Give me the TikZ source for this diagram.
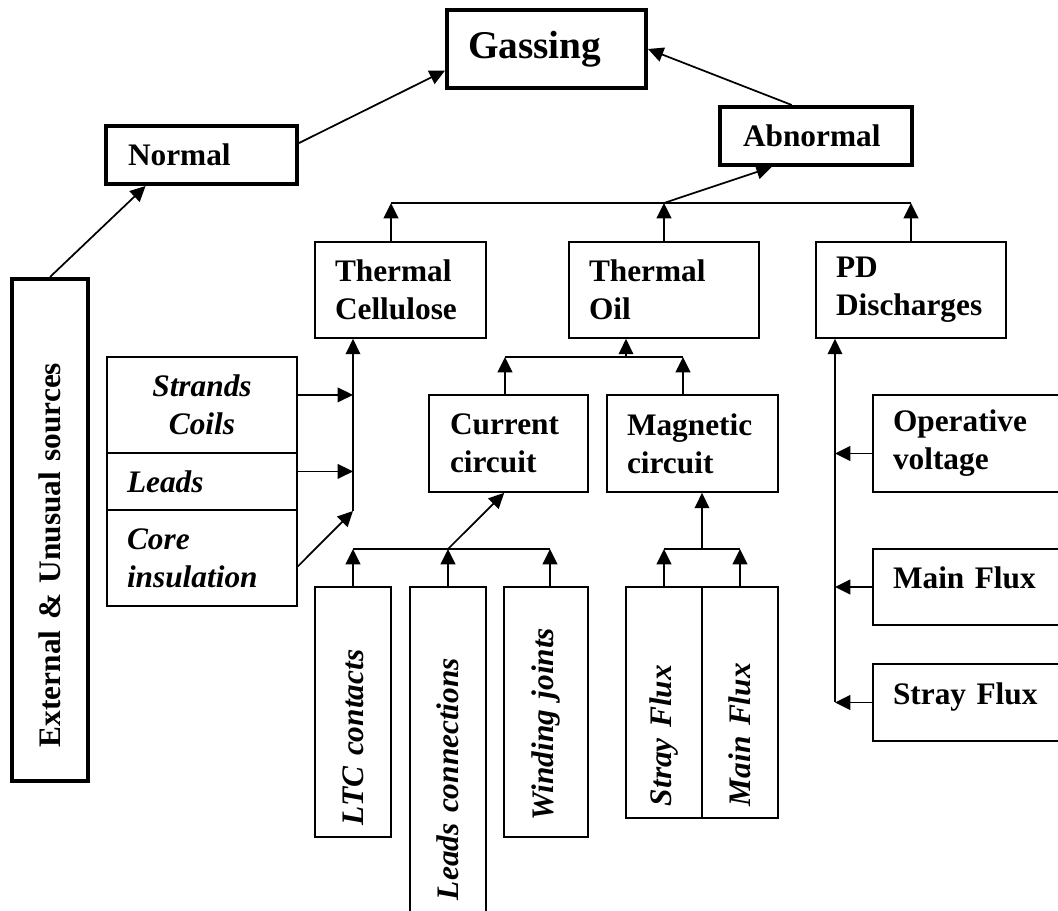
\documentclass[tikz,border=0pt]{standalone}
\usepackage{fontspec}
\setmainfont{Liberation Serif}
\usetikzlibrary{arrows.meta}

\newcommand{\diagfont}{\fontsize{23.5}{28.5}\selectfont\bfseries}

\begin{document}
\begin{tikzpicture}[x=0.75pt, y=-0.75pt,
    sbox/.style={draw, line width=1.3pt, font=\diagfont, align=left, inner sep=0pt},
    mbox/.style={sbox, line width=3pt},
    itbox/.style={sbox, font=\diagfont\itshape},
    arr/.style={line width=1.3pt, -{Triangle[length=11.5pt, width=11pt]}},
    wire/.style={line width=1.3pt}]
  \useasboundingbox (0,0) rectangle (1058,911);
  \clip (0,0) rectangle (1058,911);

  \node [mbox, font=\fontsize{29.5}{35}\selectfont\bfseries, minimum width=149.25pt, minimum height=58.5pt, text width=117.75pt] (gas) at (546.5,49) {Gassing};
  \node [mbox, minimum width=143.25pt, minimum height=43.5pt, text width=110.25pt] (normal) at (201.5,155) {Normal};
  \node [mbox, minimum width=144pt, minimum height=43.5pt, text width=109.5pt] (abn) at (816,136) {Abnormal};
  \node [mbox, rotate=90, minimum width=376.5pt, minimum height=57pt, text width=325.5pt] (ext) at (50,530) {External \& Unusual sources};

  \node [sbox, minimum width=128.25pt, minimum height=72pt, text width=98.25pt] (tcell) at (400.5,290) {Thermal\\Cellulose};
  \node [sbox, minimum width=142.5pt, minimum height=72pt, text width=112.5pt] (toil) at (664,290) {Thermal\\Oil};
  \node [sbox, minimum width=142.5pt, minimum height=72pt, text width=112.5pt] (pd) at (911,290) {PD\\Discharges};
  \node [sbox, minimum width=119.25pt, minimum height=72.75pt, text width=87.75pt] (cur) at (508.5,443.5) {Current\\circuit};
  \node [sbox, minimum width=128.25pt, minimum height=72.75pt, text width=98.25pt] (mag) at (692.5,443.5) {Magnetic\\circuit};

  \node [itbox, align=center, minimum width=142.5pt, minimum height=72pt, text width=112.5pt] (strands) at (202,405) {Strands\\Coils};
  \node [itbox, minimum width=142.5pt, minimum height=42.75pt, text width=112.5pt] (leads) at (202,481.5) {Leads};
  \node [itbox, minimum width=142.5pt, minimum height=72pt, text width=112.5pt] (core) at (202,558) {Core\\insulation};

  \node [itbox, rotate=90, minimum width=187.5pt, minimum height=57pt, text width=169.5pt] (ltc) at (353,712) {LTC contacts};
  \node [itbox, rotate=90, minimum width=253.5pt, minimum height=57pt, text width=216pt] (leadc) at (448,756) {Leads connections};
  \node [itbox, rotate=90, minimum width=187.5pt, minimum height=63pt, text width=162pt] (wind) at (546,712) {Winding joints};
  \node [itbox, rotate=90, minimum width=173.25pt, minimum height=57pt, text width=155.25pt] (stray) at (664,702.5) {Stray Flux};
  \node [itbox, rotate=90, minimum width=173.25pt, minimum height=57pt, text width=155.25pt] (mainf) at (740,702.5) {Main Flux};

  \node [sbox, minimum width=170.25pt, minimum height=72.75pt, text width=140.25pt] (opv) at (986.5,443.5) {Operative\\voltage};
  \node [sbox, text depth=14pt, minimum width=170.25pt, minimum height=57pt, text width=140.25pt] (mflux) at (986.5,587) {Main Flux};
  \node [sbox, text depth=14pt, minimum width=170.25pt, minimum height=57.75pt, text width=140.25pt] (sflux) at (986.5,702.5) {Stray Flux};

  \coordinate (b1w) at (391,203);
  \coordinate (b2w) at (505,357);
  \coordinate (b2e) at (683,357);
  \coordinate (b2) at (626,357);
  \coordinate (b3w) at (353,549);
  \coordinate (b3e) at (550,549);
  \coordinate (b4) at (702,549);
  \coordinate (cb) at (353,511);
  \coordinate (pdb) at (835,702);

  \draw [arr] (normal.7) -- (gas.192);
  \draw [arr] (ext.east) -- (normal.209);
  \draw [arr] (abn.128) -- (gas.east);

  \draw [wire] (b1w) -- (pd.north |- b1w);
  \draw [arr] (tcell.north -| b1w) -- (b1w);
  \draw [arr] (toil.north) -- (toil.north |- b1w);
  \draw [arr] (pd.north) -- (pd.north |- b1w);
  \draw [arr] (toil.north |- b1w) -- (abn.215);

  \draw [wire] (b2w) -- (b2e);
  \draw [arr] (cur.north -| b2w) -- (b2w);
  \draw [arr] (mag.north -| b2e) -- (b2e);
  \draw [arr] (b2) -- (b2 |- toil.south);

  \draw [arr] (cb) -- (cb |- tcell.south);
  \draw [arr] (strands.6) -- (strands.6 -| cb);
  \draw [arr] (leads.6) -- (leads.6 -| cb);
  \draw [arr] (core.-5) -- (cb);

  \draw [wire] (b3w) -- (b3e);
  \draw [arr] (ltc.east) -- (ltc.east |- b3w);
  \draw [arr] (leadc.east) -- (leadc.east |- b3w);
  \draw [arr] (wind.east -| b3e) -- (b3e);
  \draw [arr] (leadc.east |- b3w) -- (cur.265);

  \draw [wire] (stray.east |- b4) -- (mainf.east |- b4);
  \draw [arr] (stray.east) -- (stray.east |- b4);
  \draw [arr] (mainf.east) -- (mainf.east |- b4);
  \draw [arr] (b4) -- (b4 |- mag.south);

  \draw [arr] (pdb) -- (pdb |- pd.south);
  \draw [arr] (opv.185) -- (opv.185 -| pdb);
  \draw [arr] (mflux.west) -- (mflux.west -| pdb);
  \draw [arr] (sflux.west) -- (sflux.west -| pdb);
\end{tikzpicture}
\end{document}
